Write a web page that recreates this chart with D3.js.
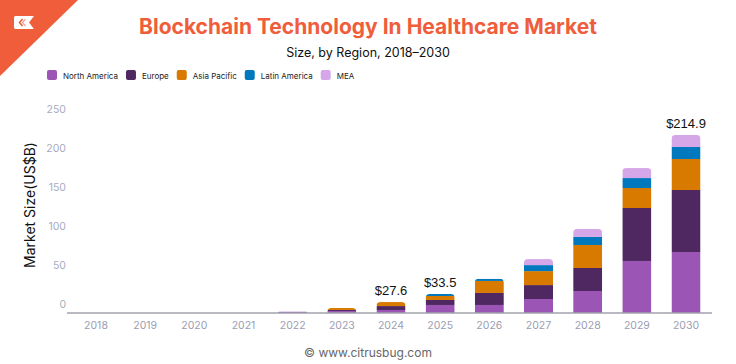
<!DOCTYPE html>
<html>
<head>
<meta charset="utf-8">
<script src="https://cdn.jsdelivr.net/npm/d3@7"></script>
<style>
  html, body { margin: 0; padding: 0; background: #fff; }
  svg { display: block; }
</style>
</head>
<body>
<div id="chart"></div>
<script>
const years = ['2018','2019','2020','2021','2022','2023','2024','2025','2026','2027','2028','2029','2030'];
const northAmerica = [0, 0, 0, 0, 1.9, 2.6, 3.8, 10.3, 10.3, 17.9, 28.2, 66.7, 78.2];
const europe       = [0, 0, 0, 0, 0,   1.3, 5.1, 6.4, 15.4, 17.9, 29.5, 67.9, 79.5];
const asiaPacific  = [0, 0, 0, 0, 0,   2.6, 5.1, 5.1, 15.4, 17.9, 29.5, 25.6, 39.7];
const latinAmerica = [0, 0, 0, 0, 0,   0,   0,   2.6, 2.6,  7.7, 10.3, 12.8, 15.4];
const mea          = [0, 0, 0, 0, 0,   0,   0,   0,   0.3,  7.7, 10.3, 12.8, 15.4];
const seriesNames = ['North America', 'Europe', 'Asia Pacific', 'Latin America', 'MEA'];
const seriesColors = ['#9b55b4', '#4f2761', '#d87900', '#0078bd', '#d5a7e9'];
const yTicks = [0, 50, 100, 150, 200, 250];
const annotationYears = ['2024', '2025', '2030'];
const annotationLabels = ['$27.6', '$33.5', '$214.9'];

const W = 736, H = 364;
const svg = d3.select('#chart').append('svg').attr('width', W).attr('height', H);

// corner decoration + logo
svg.append('path').attr('d', 'M0,0 L78,0 L0,76 Z').attr('fill', '#f05d3a');
svg.append('path')
  .attr('d', 'M15.5,16 L34,16 L29,22.5 L34,29 L15.5,29 Q14,29 14,27.5 L14,17.5 Q14,16 15.5,16 Z')
  .attr('fill', '#ffffff');
svg.append('path').attr('d', 'M22.5,19 L19.5,22.5 L22.5,26').attr('fill', 'none')
  .attr('stroke', '#f05d3a').attr('stroke-width', 1.6);
svg.append('path').attr('d', 'M25.5,19 L22.5,22.5 L25.5,26').attr('fill', 'none')
  .attr('stroke', '#f7a58f').attr('stroke-width', 1.2);

// title
svg.append('text').attr('x', 368).attr('y', 34).attr('text-anchor', 'middle')
  .attr('font-family', 'Inter, sans-serif').attr('font-weight', 700).attr('font-size', 21)
  .attr('fill', '#f05d3a').text('Blockchain Technology In Healthcare Market');
svg.append('text').attr('x', 368).attr('y', 56.5).attr('text-anchor', 'middle')
  .attr('font-family', 'Inter, sans-serif').attr('font-size', 12.5)
  .attr('fill', '#111').text('Size, by Region, 2018–2030');

// legend
const legend = svg.append('g');
let lx = 47;
seriesNames.forEach((name, i) => {
  legend.append('rect').attr('x', lx).attr('y', 70).attr('width', 10).attr('height', 10)
    .attr('rx', 2).attr('fill', seriesColors[i]);
  const t = legend.append('text').attr('x', lx + 16).attr('y', 78.5)
    .attr('font-family', 'Inter, sans-serif').attr('font-size', 8).attr('fill', '#222').text(name);
  lx += 16 + t.node().getComputedTextLength() + 8;
});

// scales
const x = d3.scaleBand().domain(years).range([71.4, 710.6]).paddingInner(0.41).paddingOuter(0.205);
const y = d3.scaleLinear().domain([0, 250]).range([313, 118]);

// y axis
const yAxis = svg.append('g').attr('transform', 'translate(71,0)')
  .call(d3.axisLeft(y).tickValues(yTicks).tickSize(0).tickPadding(5));
yAxis.select('.domain').remove();
yAxis.selectAll('text').attr('font-family', 'Inter, sans-serif').attr('font-size', 10.5)
  .attr('fill', '#a7abbf').attr('transform', 'translate(0,-9)');

// x axis
const xAxis = svg.append('g').attr('transform', 'translate(0,313)')
  .call(d3.axisBottom(x).tickSize(0).tickPadding(9));
xAxis.select('.domain').remove();
xAxis.selectAll('text').attr('font-family', 'Inter, sans-serif').attr('font-size', 10.5)
  .attr('fill', '#9a9db2');

// stacked bars
const table = years.map((yr, i) => ({
  year: yr,
  'North America': northAmerica[i], 'Europe': europe[i], 'Asia Pacific': asiaPacific[i],
  'Latin America': latinAmerica[i], 'MEA': mea[i]
}));
const stack = d3.stack().keys(seriesNames)(table);
const defs = svg.append('defs');
const bw = x.bandwidth();
table.forEach((d, i) => {
  const total = seriesNames.reduce((s, k) => s + d[k], 0);
  if (total <= 0) return;
  const x0 = x(d.year), top = y(total), bot = y(0);
  const r = Math.min(4, (bot - top));
  defs.append('clipPath').attr('id', 'clip' + i).append('path')
    .attr('d', `M${x0},${bot} L${x0},${top + r} Q${x0},${top} ${x0 + r},${top} L${x0 + bw - r},${top} Q${x0 + bw},${top} ${x0 + bw},${top + r} L${x0 + bw},${bot} Z`);
  const g = svg.append('g').attr('clip-path', `url(#clip${i})`);
  stack.forEach((s, si) => {
    const seg = s[i];
    if (seg[1] - seg[0] <= 0) return;
    g.append('rect').attr('x', x0).attr('width', bw)
      .attr('y', y(seg[1])).attr('height', y(seg[0]) - y(seg[1]))
      .attr('fill', seriesColors[si]);
  });
});

// baseline
svg.append('line').attr('x1', 67).attr('x2', 712).attr('y1', 313).attr('y2', 313)
  .attr('stroke', '#a2a2ae').attr('stroke-width', 1.5);

// annotations
annotationYears.forEach((yr, j) => {
  const i = years.indexOf(yr);
  const total = northAmerica[i] + europe[i] + asiaPacific[i] + latinAmerica[i] + mea[i];
  svg.append('text').attr('x', x(yr) + bw / 2).attr('y', y(total) - 7)
    .attr('text-anchor', 'middle').attr('font-family', 'Liberation Sans, Arial, sans-serif')
    .attr('font-size', 13).attr('fill', '#111').text(annotationLabels[j]);
});

// y title
svg.append('text').attr('transform', 'translate(35,205) rotate(-90)').attr('text-anchor', 'middle')
  .attr('font-family', 'Inter, sans-serif').attr('font-size', 14).attr('fill', '#111')
  .text('Market Size(US$B)');

// footer
svg.append('text').attr('x', 368).attr('y', 357).attr('text-anchor', 'middle')
  .attr('font-family', 'Inter, sans-serif').attr('font-size', 12).attr('fill', '#666')
  .text('© www.citrusbug.com');
</script>
</body>
</html>
